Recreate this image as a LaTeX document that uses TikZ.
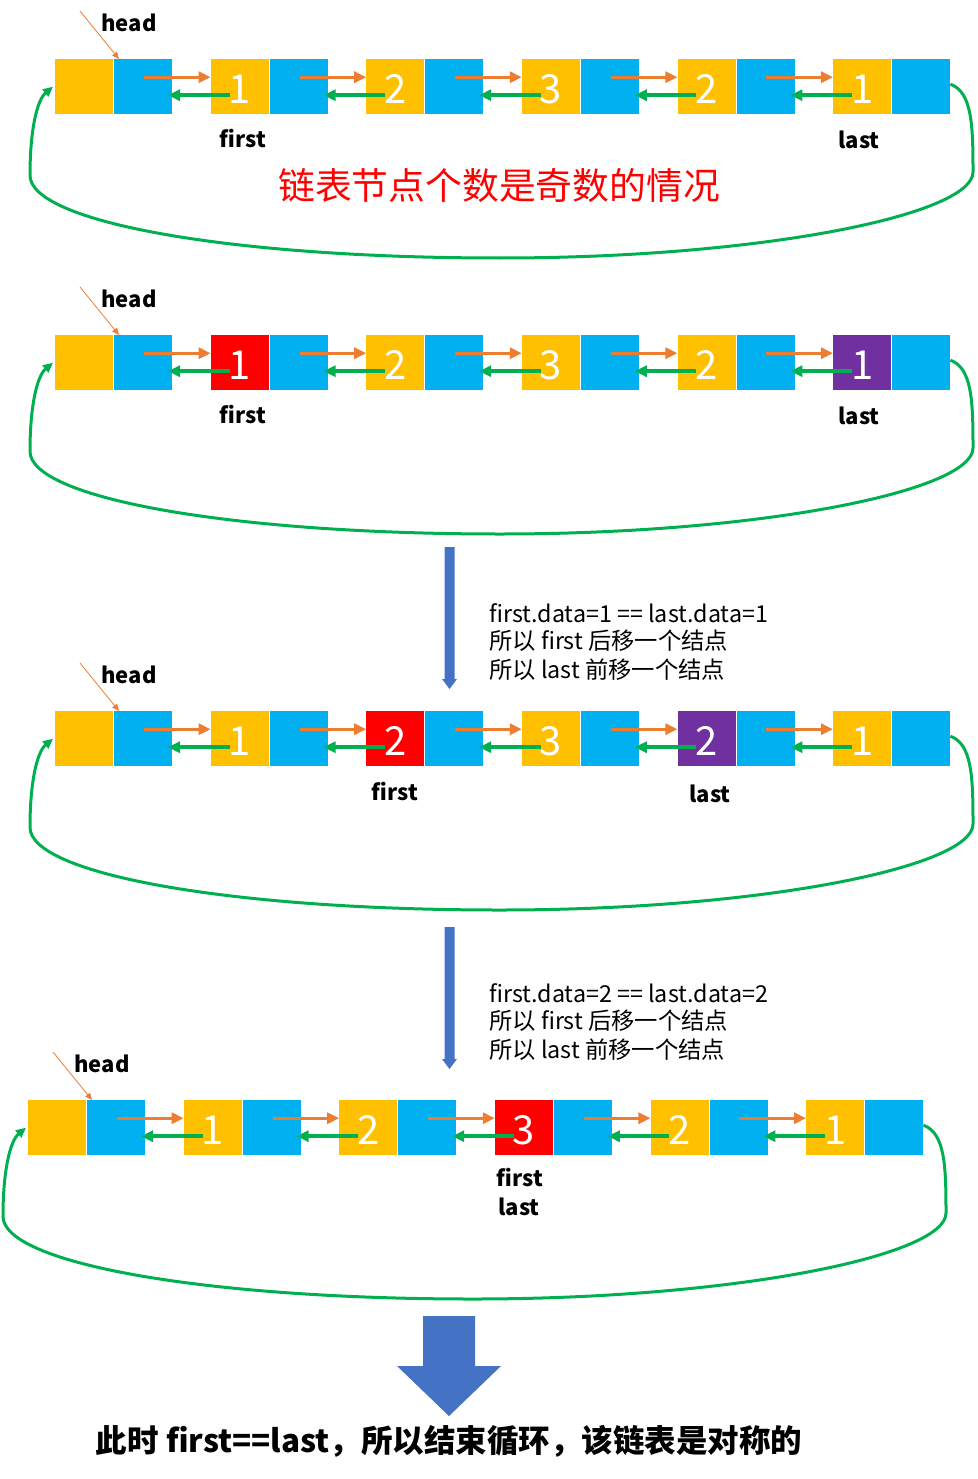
\documentclass[tikz,border=0pt]{standalone}
\usepackage{fontspec}
\setmainfont{Noto Sans CJK SC}
\usetikzlibrary{arrows.meta,calc}
\definecolor{cyel}{HTML}{FFC000}
\definecolor{cblu}{HTML}{00B0F0}
\definecolor{cora}{HTML}{ED7D31}
\definecolor{cgrn}{HTML}{00B050}
\definecolor{cred}{HTML}{FF0000}
\definecolor{cpur}{HTML}{7030A0}
\definecolor{carr}{HTML}{4472C4}
\tikzset{
 cell/.style={anchor=north west, minimum width=58pt, minimum height=55pt, inner sep=0pt},
 digit/.style={text=white, inner sep=0pt, font=\fontsize{40}{40}\selectfont},
 oarr/.style={draw=cora, line width=3pt, -{Triangle[length=12pt,width=11pt]}},
 garr/.style={draw=cgrn, line width=3.5pt, -{Triangle[length=12pt,width=11pt]}},
 ring/.style={draw=cgrn, line width=3pt, -{Triangle[length=10pt,width=9pt]}},
 harr/.style={draw=cora, line width=0.8pt, -{Triangle[length=7pt,width=6pt]}},
 lbl/.style={font=\fontsize{22}{22}\selectfont\bfseries, inner sep=0pt},
 note/.style={font=\fontsize{23.3}{23.3}\selectfont, anchor=west, inner sep=0pt},
 blockarr/.style={fill=carr, draw=none},
}
\newcommand\drawrow[4]{%
\begin{scope}[shift={(#2,#3)}]
\foreach \i/\nn/\cc in {#4} {
  \node[cell,fill=\cc] (R#1y\i) at ({55+155.6*\i},59) {};
  \node[cell,fill=cblu] (R#1b\i) at ({114+155.6*\i},59) {};
}
\foreach \i in {0,...,4} {
  \pgfmathtruncatemacro\j{\i+1}
  \draw[oarr] ([xshift=30pt,yshift=9.5pt]R#1b\i.west) -- ([yshift=9.5pt]R#1y\j.west);
  \draw[garr] ([xshift=19pt,yshift=-8.5pt]R#1y\j.west) -- ([xshift=54pt,yshift=-8.5pt]R#1b\i.west);
}
\foreach \i/\nn/\cc in {#4} {
  \node[digit] (R#1d\i) at ([yshift=-2.5pt]R#1y\i.center) {\nn};
}
\coordinate (R#1h) at (80,11);
\node[lbl] (R#1ht) at (129,23) {head};
\draw[harr] (R#1h) -- ([xshift=5pt]R#1b0.north west);
\draw[ring] ([yshift=2.5pt]R#1b5.east) .. controls (972,92) and (973,125) .. (973,172) .. controls (973,215) and (760,258) .. (500,258) .. controls (230,258) and (29,222) .. (30,175) .. controls (30,130) and (37,100) .. ([xshift=-2pt]R#1y0.west);
\end{scope}}
\begin{document}
\begin{tikzpicture}[x=1pt,y=-1pt]
\useasboundingbox[fill=white] (0,0) rectangle (977,1479);
\drawrow{1}{0}{0}{0//cyel,1/1/cyel,2/2/cyel,3/3/cyel,4/2/cyel,5/1/cyel}
\drawrow{2}{0}{276}{0//cyel,1/1/cred,2/2/cyel,3/3/cyel,4/2/cyel,5/1/cpur}
\drawrow{3}{0}{652}{0//cyel,1/1/cyel,2/2/cred,3/3/cyel,4/2/cpur,5/1/cyel}
\drawrow{4}{-27}{1041}{0//cyel,1/1/cyel,2/2/cyel,3/3/cred,4/2/cyel,5/1/cyel}
\node[lbl] (f1) at (243,139) {first};
\node[lbl] (l1) at (859,140) {last};
\node[text=cred, inner sep=0pt, font=\fontsize{36.8}{36.8}\selectfont] (t1) at (499,185) {链表节点个数是奇数的情况};
\node[lbl] (f2) at (243,415) {first};
\node[lbl] (l2) at (859,416) {last};
\node[lbl] (f3) at (395,792) {first};
\node[lbl] (l3) at (710,794) {last};
\node[lbl] (f4) at (520,1177) {first};
\node[lbl] (l4) at (519,1207) {last};
\fill[blockarr] (444.5,547) -- (454.5,547) -- (454.5,679) -- (457,679) -- (449.5,689) -- (442,679) -- (444.5,679) -- cycle;
\fill[blockarr] (444.5,927) -- (454.5,927) -- (454.5,1059) -- (457,1059) -- (449.5,1069) -- (442,1059) -- (444.5,1059) -- cycle;
\node[note] (n1a) at (489,613) {first.data=1 == last.data=1};
\node[note] (n1b) at (489,641) {所以 first 后移一个结点};
\node[note] (n1c) at (489,670) {所以 last 前移一个结点};
\node[note] (n2a) at (489,993) {first.data=2 == last.data=2};
\node[note] (n2b) at (489,1021) {所以 first 后移一个结点};
\node[note] (n2c) at (489,1050) {所以 last 前移一个结点};
\fill[blockarr] (423,1316) -- (475,1316) -- (475,1366) -- (501,1366) -- (449,1416) -- (397,1366) -- (423,1366) -- cycle;
\node[inner sep=0pt, font=\fontsize{31.5}{31.5}\selectfont\bfseries] (fin) at (449,1441) {此时 first==last，所以结束循环，该链表是对称的};
\end{tikzpicture}
\end{document}
